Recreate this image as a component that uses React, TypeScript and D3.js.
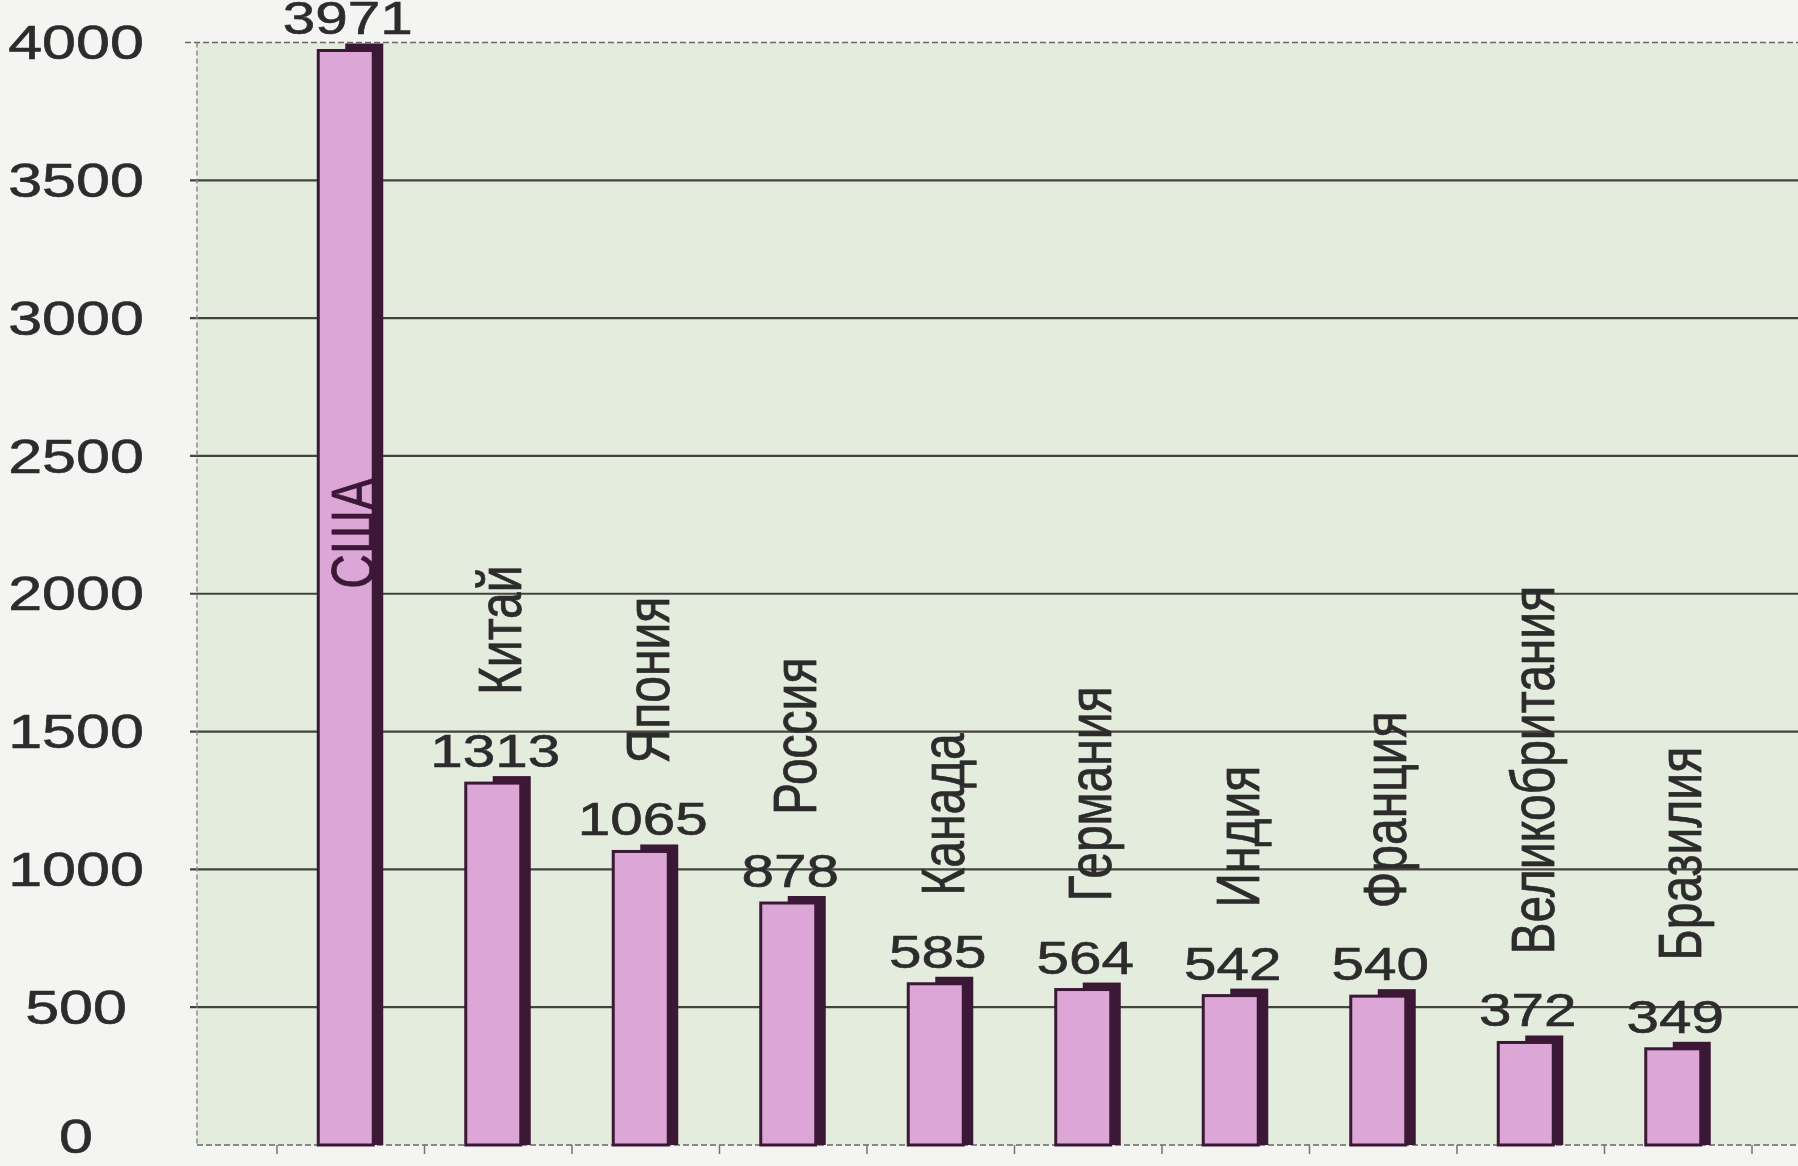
import React, { useRef, useEffect } from "react";
import * as d3 from "d3";

const countries = [
  "США",
  "Китай",
  "Япония",
  "Россия",
  "Канада",
  "Германия",
  "Индия",
  "Франция",
  "Великобритания",
  "Бразилия",
];
const values = [3971, 1313, 1065, 878, 585, 564, 542, 540, 372, 349];
const yTicks = [0, 500, 1000, 1500, 2000, 2500, 3000, 3500, 4000];

const W = 1798;
const H = 1166;
const SX = 1.27; // the scan is stretched sideways
const FONT = "'Liberation Sans', Arial, sans-serif";
const INK = "#2d2b2c";
const PINK = "#dca6d6";
const DARK = "#3b1836";

function App() {
  const ref = useRef<SVGSVGElement>(null);

  useEffect(() => {
    document.body.style.margin = "0";
    document.body.style.overflow = "hidden";

    const svg = d3.select(ref.current);
    svg.selectAll("*").remove();

    const plotLeft = 197;
    const y = d3.scaleLinear().domain([0, 4000]).range([1145, 42.5]);
    const x = d3.scaleBand().domain(countries).range([277, 1752]).padding(0);
    const base = y(0);

    svg.append("rect").attr("width", W).attr("height", H).attr("fill", "#f4f4f2");
    svg
      .append("rect")
      .attr("x", plotLeft)
      .attr("y", y(4000))
      .attr("width", W - plotLeft)
      .attr("height", base - y(4000))
      .attr("fill", "#e4ecdd");

    // grid
    svg
      .append("g")
      .selectAll("line")
      .data(yTicks.filter((t) => t > 0 && t < 4000))
      .join("line")
      .attr("x1", plotLeft - 7)
      .attr("x2", W)
      .attr("y1", (d) => y(d))
      .attr("y2", (d) => y(d))
      .attr("stroke", "#46433f")
      .attr("stroke-width", 2.2);

    svg
      .append("line")
      .attr("x1", plotLeft - 12)
      .attr("x2", W)
      .attr("y1", y(4000))
      .attr("y2", y(4000))
      .attr("stroke", "#6a6864")
      .attr("stroke-width", 1.5)
      .attr("stroke-dasharray", "6,3");
    svg
      .append("line")
      .attr("x1", plotLeft)
      .attr("x2", plotLeft)
      .attr("y1", y(4000))
      .attr("y2", base)
      .attr("stroke", "#8a8884")
      .attr("stroke-width", 1.5)
      .attr("stroke-dasharray", "5,3");
    svg
      .append("line")
      .attr("x1", plotLeft)
      .attr("x2", W)
      .attr("y1", base)
      .attr("y2", base)
      .attr("stroke", "#8a8884")
      .attr("stroke-width", 2)
      .attr("stroke-dasharray", "6,3");

    const tickXs = countries.map((c) => x(c) as number).concat([x.range()[1]]);
    svg
      .append("g")
      .selectAll("line")
      .data(tickXs)
      .join("line")
      .attr("x1", (d) => d)
      .attr("x2", (d) => d)
      .attr("y1", base)
      .attr("y2", base + 9)
      .attr("stroke", "#77736e")
      .attr("stroke-width", 1.5);

    // y labels
    svg
      .append("g")
      .selectAll("text")
      .data(yTicks)
      .join("text")
      .attr("transform", (d) => `translate(${76},${Math.min(y(d), 1136)}) scale(${SX},1)`)
      .attr("text-anchor", "middle")
      .attr("dominant-baseline", "central")
      .attr("font-family", FONT)
      .attr("font-size", 48)
      .attr("fill", INK)
      .attr("stroke", INK)
      .attr("stroke-width", 0.6)
      .text((d) => d);

    // bars
    const full = 65;
    const front = 55;
    const rows = countries.map((c, i) => ({ c, v: values[i] }));
    const bars = svg.append("g").selectAll("g").data(rows).join("g");
    const left = (d: { c: string }) => (x(d.c) as number) + x.bandwidth() / 2 - full / 2;

    bars
      .append("rect")
      .attr("x", (d) => left(d) + 27)
      .attr("y", (d) => y(d.v) - 7)
      .attr("width", full - 27)
      .attr("height", (d) => base - y(d.v) + 7)
      .attr("fill", DARK);
    bars
      .append("rect")
      .attr("x", (d) => left(d))
      .attr("y", (d) => y(d.v))
      .attr("width", front)
      .attr("height", (d) => base - y(d.v))
      .attr("fill", PINK)
      .attr("stroke", DARK)
      .attr("stroke-width", 3);

    // value labels
    bars
      .append("text")
      .attr(
        "transform",
        (d) => `translate(${(x(d.c) as number) + x.bandwidth() / 2 - 3},${y(d.v) - 16}) scale(${SX},1)`
      )
      .attr("text-anchor", "middle")
      .attr("font-family", FONT)
      .attr("font-size", 46)
      .attr("fill", INK)
      .attr("stroke", INK)
      .attr("stroke-width", 0.6)
      .text((d) => d.v);

    // country names, rotated; inside the bar when there is no room above
    const roomAbove = (v: number) => y(v) - 290 > y(4000);
    bars
      .append("text")
      .attr("transform", (d) => {
        const cx = (x(d.c) as number) + x.bandwidth() / 2 + 2;
        const sy = roomAbove(d.v) ? y(d.v) - 88 : (y(d.v) + base) / 2 - 9;
        return `translate(${cx},${sy}) scale(${SX},1) rotate(-90)`;
      })
      .attr("text-anchor", "start")
      .attr("dominant-baseline", "central")
      .attr("font-family", FONT)
      .attr("font-size", 48)
      .attr("fill", (d) => (roomAbove(d.v) ? INK : DARK))
      .attr("stroke", (d) => (roomAbove(d.v) ? INK : DARK))
      .attr("stroke-width", 0.6)
      .text((d) => d.c);
  }, []);

  return (
    <div>
      <svg ref={ref} width={W} height={H} style={{ display: "block" }}></svg>
    </div>
  );
}

export default App;
